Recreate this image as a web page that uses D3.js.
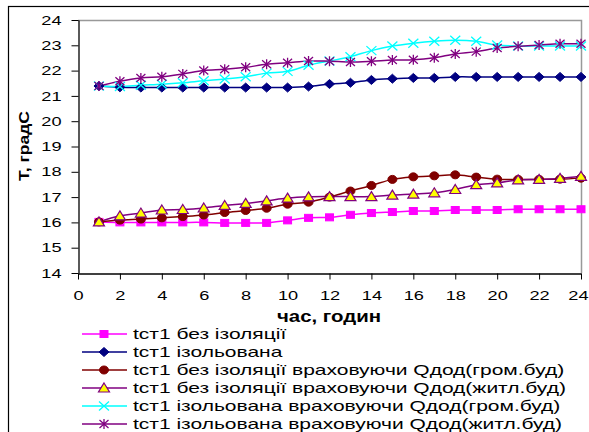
<!DOCTYPE html>
<html>
<head>
<meta charset="utf-8">
<script src="https://cdn.jsdelivr.net/npm/d3@7"></script>
<style>
  body { margin: 0; background: #fff; }
  svg text { font-family: "Liberation Sans", Arial, sans-serif; }
</style>
</head>
<body>
<div id="chart"></div>
<script>
// hours on the x axis
const hours = d3.range(1, 25);

const xTicks = [0, 2, 4, 6, 8, 10, 12, 14, 16, 18, 20, 22, 24];
const yTicks = [14, 15, 16, 17, 18, 19, 20, 21, 22, 23, 24];

// series values
const noInsulation = [16.02, 16.0, 16.0, 16.0, 16.0, 16.0, 15.98, 15.98, 15.98, 16.08,
  16.18, 16.2, 16.3, 16.37, 16.41, 16.45, 16.45, 16.49, 16.49, 16.49, 16.52, 16.52, 16.52, 16.52];
const insulated = [21.39, 21.34, 21.33, 21.33, 21.33, 21.33, 21.33, 21.33, 21.33, 21.33,
  21.37, 21.47, 21.52, 21.63, 21.68, 21.71, 21.71, 21.75, 21.75, 21.75, 21.75, 21.75, 21.75, 21.75];
const noInsGrom = [16.02, 16.09, 16.13, 16.18, 16.23, 16.29, 16.39, 16.47, 16.56, 16.72,
  16.8, 17.0, 17.24, 17.46, 17.7, 17.8, 17.84, 17.88, 17.79, 17.71, 17.7, 17.7, 17.71, 17.75];
const noInsZhytl = [16.02, 16.26, 16.37, 16.49, 16.51, 16.57, 16.67, 16.75, 16.85, 16.96,
  17.01, 17.02, 17.02, 17.02, 17.08, 17.12, 17.17, 17.3, 17.49, 17.56, 17.68, 17.7, 17.74, 17.82];
const insGrom = [21.39, 21.37, 21.42, 21.46, 21.52, 21.6, 21.67, 21.76, 21.9, 21.97,
  22.21, 22.38, 22.55, 22.79, 22.97, 23.08, 23.16, 23.2, 23.16, 23.01, 22.97, 22.97, 22.97, 22.97];
const insZhytl = [21.39, 21.58, 21.71, 21.76, 21.87, 22.0, 22.05, 22.13, 22.25, 22.31,
  22.38, 22.37, 22.34, 22.37, 22.42, 22.43, 22.51, 22.66, 22.75, 22.89, 22.96, 23.01, 23.06, 23.06];

const seriesNames = [
  "tст1 без ізоляції",
  "tст1 ізольована",
  "tст1 без ізоляції враховуючи Qдод(гром.буд)",
  "tст1 без ізоляції враховуючи Qдод(житл.буд)",
  "tст1 ізольована враховуючи Qдод(гром.буд)",
  "tст1 ізольована враховуючи Qдод(житл.буд)"
];

const series = [
  { name: seriesNames[0], values: noInsulation, color: "#ff00ff", marker: "square", fill: "#ff00ff" },
  { name: seriesNames[1], values: insulated, color: "#000080", marker: "diamond", fill: "#000080" },
  { name: seriesNames[2], values: noInsGrom, color: "#800000", marker: "circle", fill: "#800000" },
  { name: seriesNames[3], values: noInsZhytl, color: "#800080", marker: "triangle", fill: "#ffff00" },
  { name: seriesNames[4], values: insGrom, color: "#00ffff", marker: "x", fill: "none" },
  { name: seriesNames[5], values: insZhytl, color: "#800080", marker: "star", fill: "none" }
];

const width = 589, height = 432;
const plot = { left: 78, right: 581, top: 20, bottom: 273 };

const svg = d3.select("#chart").append("svg")
  .attr("width", width)
  .attr("height", height);

// the original text is drawn wider than it is tall, so stretch it sideways
function stretch(sel, sx) {
  sel.each(function () {
    const t = d3.select(this);
    const tx = +t.attr("x") || 0, ty = +t.attr("y") || 0;
    t.attr("x", 0).attr("y", 0)
      .attr("transform", "translate(" + tx + "," + ty + ") scale(" + sx + ",1)");
  });
}

// outer chart border
svg.append("rect")
  .attr("x", 8.5).attr("y", 6.5)
  .attr("width", 600).attr("height", 450)
  .attr("fill", "none")
  .attr("stroke", "#000")
  .attr("stroke-width", 1.2);

const x = d3.scaleLinear().domain([0, 24]).range([plot.left, plot.right]);
const y = d3.scaleLinear().domain([14, 24]).range([plot.bottom, plot.top]);

// gray plot frame (top / right)
svg.append("path")
  .attr("d", `M${plot.left},${plot.top + 0.5}H${plot.right + 0.5}V${plot.bottom}`)
  .attr("fill", "none")
  .attr("stroke", "#999")
  .attr("stroke-width", 1.5);

// axes
const xAxis = svg.append("g")
  .attr("transform", "translate(0," + (plot.bottom + 0.5) + ")")
  .call(d3.axisBottom(x).tickValues(xTicks).tickSize(6).tickPadding(11).tickSizeOuter(0));

const yAxis = svg.append("g")
  .attr("transform", "translate(" + (plot.left + 0.5) + ",0)")
  .call(d3.axisLeft(y).tickValues(yTicks).tickSize(7).tickPadding(10).tickSizeOuter(0));

[xAxis, yAxis].forEach(g => {
  g.select(".domain").attr("stroke", "#000").attr("stroke-width", 1.3);
  g.selectAll(".tick line").attr("stroke", "#000");
  g.selectAll(".tick text")
    .attr("fill", "#000")
    .style("font-size", "13px")
    .style("font-family", "'Liberation Sans', Arial, sans-serif");
  stretch(g.selectAll(".tick text"), 1.4);
});

// last hour label sits at the window edge; keep it inside
xAxis.selectAll(".tick text")
  .filter(d => d === 24)
  .attr("text-anchor", "end")
  .attr("transform", function () {
    return d3.select(this).attr("transform").replace("translate(0", "translate(7");
  });

// axis titles
svg.append("text")
  .attr("x", 329).attr("y", 322)
  .attr("text-anchor", "middle")
  .style("font-size", "17px")
  .style("font-weight", "bold")
  .text("час, годин")
  .call(stretch, 1.2);

svg.append("text")
  .attr("transform", "translate(29,146) rotate(-90) scale(1.25,1)")
  .attr("text-anchor", "middle")
  .style("font-size", "14px")
  .style("font-weight", "bold")
  .text("T, градС");

// marker drawing
function drawMarker(g, type, color, fill) {
  if (type === "square") {
    g.append("rect").attr("x", -4).attr("y", -3.5).attr("width", 8).attr("height", 7)
      .attr("fill", fill).attr("stroke", color);
  } else if (type === "diamond") {
    g.append("path").attr("d", "M0,-4.5L5,0L0,4.5L-5,0Z")
      .attr("fill", fill).attr("stroke", color);
  } else if (type === "circle") {
    g.append("ellipse").attr("rx", 4.5).attr("ry", 4).attr("fill", fill).attr("stroke", color);
  } else if (type === "triangle") {
    g.append("path").attr("d", "M0,-5L5.5,4L-5.5,4Z")
      .attr("fill", fill).attr("stroke", color).attr("stroke-width", 1.2);
  } else if (type === "x") {
    g.append("path").attr("d", "M-5,-4.5L5,4.5M-5,4.5L5,-4.5")
      .attr("stroke", color).attr("stroke-width", 1.3).attr("fill", "none");
  } else if (type === "star") {
    g.append("path").attr("d", "M-4.5,-4L4.5,4M-4.5,4L4.5,-4M0,-5V5")
      .attr("stroke", color).attr("stroke-width", 1.3).attr("fill", "none");
  }
}

const line = d3.line()
  .x((d, i) => x(hours[i]))
  .y(d => y(d))
  .curve(d3.curveCatmullRom.alpha(0.5));

// lines
series.forEach(s => {
  svg.append("path")
    .datum(s.values)
    .attr("fill", "none")
    .attr("stroke", s.color)
    .attr("stroke-width", 1.5)
    .attr("d", line);
});

// data points
series.forEach(s => {
  s.values.forEach((v, i) => {
    const g = svg.append("g").attr("transform", "translate(" + x(hours[i]) + "," + y(v) + ")");
    drawMarker(g, s.marker, s.color, s.fill);
  });
});

// legend
const legend = svg.append("g").attr("transform", "translate(82,334)");
series.forEach((s, i) => {
  const row = legend.append("g").attr("transform", "translate(0," + (i * 18) + ")");
  row.append("line")
    .attr("x1", 0).attr("x2", 45)
    .attr("stroke", s.color).attr("stroke-width", 1.5);
  drawMarker(row.append("g").attr("transform", "translate(22,0)"), s.marker, s.color, s.fill);
  row.append("text")
    .attr("x", 51).attr("y", 5)
    .style("font-size", "14px")
    .text(s.name)
    .call(stretch, 1.5);
});
</script>
</body>
</html>
